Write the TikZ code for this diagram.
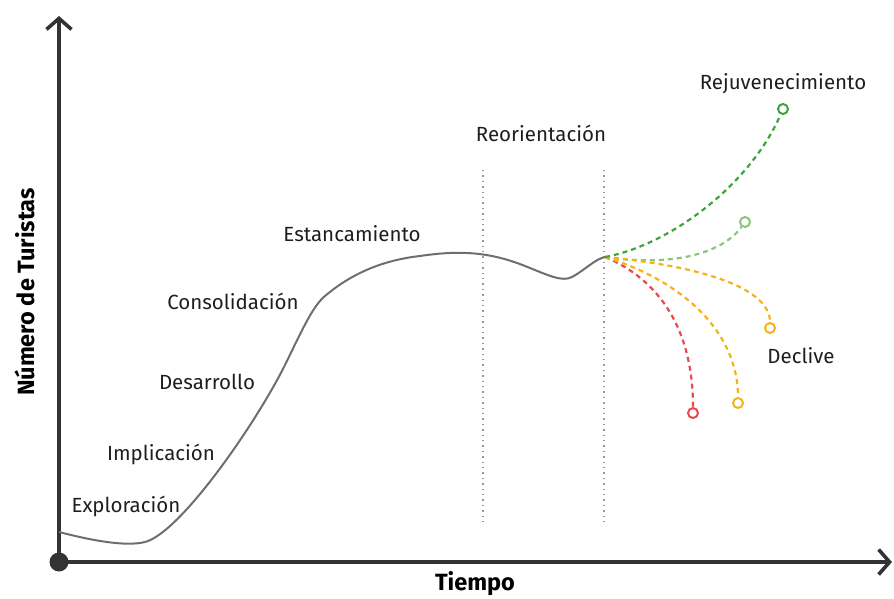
\documentclass[tikz,border=0pt]{standalone}
\usepackage{fontspec}
\setmainfont{Fira Sans}
\usetikzlibrary{arrows.meta}

\definecolor{axisgray}{HTML}{333333}
\definecolor{curvegray}{HTML}{6E6E6E}
\definecolor{txtgray}{HTML}{1E1E1E}
\definecolor{dkgreen}{HTML}{3AA63C}
\definecolor{ltgreen}{HTML}{8CC67E}
\definecolor{sunyellow}{HTML}{F2B41C}
\definecolor{warnred}{HTML}{E84A4F}

\tikzset{
  stage/.style={text=txtgray, font=\fontsize{20.5}{22}\selectfont},
  axislabel/.style={text=black, font=\fontsize{23.5}{25}\selectfont\bfseries},
  branch/.style={dash pattern=on 5pt off 4pt, line width=2.2pt},
  endmark/.style={circle, draw, line width=2pt, fill=white, inner sep=0pt, minimum size=10pt},
  guide/.style={draw=gray!80, line width=1.6pt, dash pattern=on 1.4pt off 4pt}
}

\begin{document}
\begin{tikzpicture}[x=1pt, y=-1pt]
\useasboundingbox (0,0) rectangle (894,598);

% axes
\node[circle, fill=axisgray, inner sep=0pt, minimum size=19pt] (O) at (59,562) {};
\coordinate (ytop) at (59,16);
\coordinate (xend) at (892,562);
\begin{scope}[>={Straight Barb[length=11pt, width=25pt]}, line width=3.6pt, draw=axisgray]
  \draw[->] (O.center) -- (ytop);
  \draw[->] (O.center) -- (xend);
\end{scope}
\node[axislabel, rotate=90] (ylab) at (25,292) {Número de Turistas};
\node[axislabel] (xlab) at (475,584) {Tiempo};

% reorientation guides
\coordinate (g1top) at (483,170);
\coordinate (g1bot) at (483,522);
\coordinate (g2top) at (604,170);
\coordinate (g2bot) at (604,522);
\path[guide] (g1top) -- (g1bot);
\path[guide] (g2top) -- (g2bot);

% life cycle curve
\coordinate (B) at (605,257);
\draw[curvegray, line width=2pt, line join=round]
  (59,532) .. controls (90,540) and (125,547) .. (145,542)
  .. controls (180,533) and (255,425) .. (285,365)
  .. controls (303,328) and (313,306) .. (325,296)
  .. controls (345,279) and (375,261) .. (420,256)
  .. controls (460,250) and (490,252) .. (525,266)
  .. controls (550,276) and (562,282) .. (572,277)
  .. controls (585,270) and (595,259) .. (B);

% stage labels
\node[stage] (explo) at (126,506) {Exploración};
\node[stage] (impli) at (161,454) {Implicación};
\node[stage] (desa) at (207,382) {Desarrollo};
\node[stage] (conso) at (233,301) {Consolidación};
\node[stage] (estan) at (352,234) {Estancamiento};
\node[stage] (reori) at (541,133) {Reorientación};
\node[stage] (rejuv) at (783,84) {Rejuvenecimiento};
\node[stage] (decl) at (801,356) {Declive};

% scenario ends
\node[endmark, draw=dkgreen] (r1) at (783,109) {};
\node[endmark, draw=ltgreen] (r2) at (745,222) {};
\node[endmark, draw=sunyellow] (d1) at (770,328) {};
\node[endmark, draw=sunyellow] (d2) at (738,403) {};
\node[endmark, draw=warnred] (d3) at (693,413) {};

% scenarios
\begin{scope}[branch]
  \draw[ltgreen] (B) .. controls (680,268) and (725,250) .. (r2);
  \draw[warnred] (B) .. controls (660,280) and (693,330) .. (d3);
  \draw[sunyellow] (B) .. controls (680,280) and (738,330) .. (d2);
  \draw[sunyellow] (B) .. controls (690,265) and (770,285) .. (d1);
  \draw[dkgreen] (B) .. controls (670,245) and (750,185) .. (r1);
\end{scope}
\end{tikzpicture}
\end{document}
